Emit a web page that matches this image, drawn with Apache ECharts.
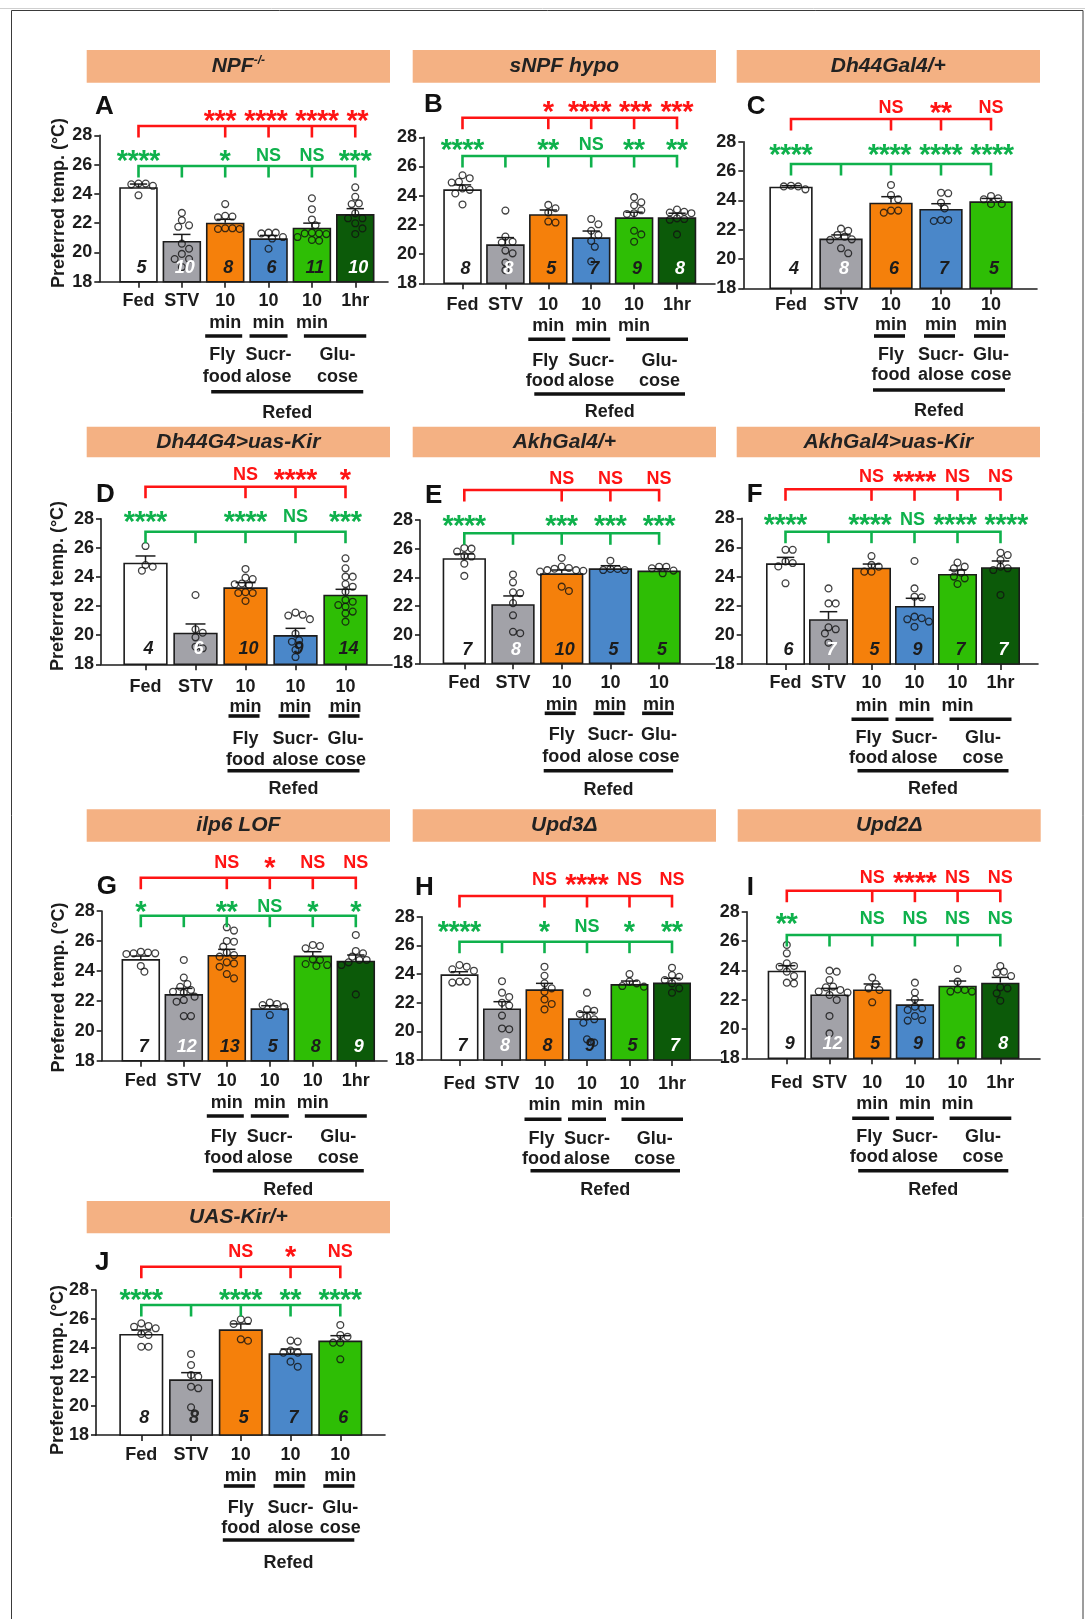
<!DOCTYPE html>
<html>
<head>
<meta charset="utf-8">
<script src="https://cdn.jsdelivr.net/npm/echarts@6/dist/echarts.min.js"></script>
<style>
html, body { margin: 0; padding: 0; background: #fff; }
#chart { width: 1085px; height: 1619px; }
</style>
</head>
<body>
<div id="chart"></div>
<script>
// ---------- shared labels ----------
const CATS_6 = ['Fed', 'STV', '10\nmin', '10\nmin', '10\nmin', '1hr'];
const CATS_5 = ['Fed', 'STV', '10\nmin', '10\nmin', '10\nmin'];
const GROUP_LABELS = [['Fly', 'food'], ['Sucr-', 'alose'], ['Glu-', 'cose']];
const REFED_LABEL = 'Refed';
const Y_TITLE = 'Preferred temp. (°C)';
const Y_MIN = 18, Y_MAX = 28, Y_STEP = 2;
const LETTERS = ['A', 'B', 'C', 'D', 'E', 'F', 'G', 'H', 'I', 'J'];
const TITLES = ['NPF^-/-', 'sNPF hypo', 'Dh44Gal4/+', 'Dh44G4>uas-Kir', 'AkhGal4/+',
                'AkhGal4>uas-Kir', 'ilp6 LOF', 'Upd3Δ', 'Upd2Δ', 'UAS-Kir/+'];

// ---------- A: NPF-/- ----------
const meanA = [24.45, 20.78, 22.03, 20.96, 21.69, 22.62];
const semA = [0.22, 0.45, 0.23, 0.2, 0.31, 0.37];
const nA = [5, 10, 8, 6, 11, 10];
const ptsA = [
  [24.65, 24.55, 24.7, 24.7, 23.9],
  [22.7, 22.2, 21.85, 21.75, 20.6, 20.25, 19.9, 19.55, 19.55, 19.0],
  [23.3, 22.5, 22.45, 22.4, 21.65, 21.6, 21.65, 21.6],
  [21.35, 21.3, 21.35, 21.05, 20.95, 20.25],
  [23.7, 22.95, 22.25, 21.85, 21.3, 21.3, 21.25, 21.05, 21.35, 20.85, 20.8],
  [24.45, 23.8, 23.35, 23.3, 22.67, 22.33, 22.33, 21.99, 21.64, 21.26]
];
const redA = ['***', '****', '****', '**'];
const greenA = ['****', '*', 'NS', 'NS', '***'];

// ---------- B: sNPF hypo ----------
const meanB = [24.44, 20.67, 22.73, 21.15, 22.52, 22.52];
const semB = [0.3, 0.46, 0.29, 0.43, 0.35, 0.28];
const nB = [8, 8, 5, 7, 9, 8];
const ptsB = [
  [25.4, 25.2, 24.9, 24.95, 24.5, 24.4, 24.15, 23.4],
  [22.98, 21.2, 20.85, 20.79, 20.24, 20.05, 19.42, 18.9],
  [23.37, 23.14, 22.85, 22.16, 22.23],
  [22.4, 22.04, 21.6, 21.3, 20.9, 20.5, 19.5],
  [23.9, 23.55, 23.35, 23.0, 22.8, 22.75, 21.6, 21.35, 20.85],
  [23.05, 22.9, 22.85, 22.8, 22.45, 22.4, 22.35, 21.35]
];
const redB = ['*', '****', '***', '***'];
const greenB = ['****', '**', 'NS', '**', '**'];

// ---------- C: Dh44Gal4/+ ----------
const meanC = [24.93, 21.39, 23.84, 23.41, 23.93];
const semC = [0.07, 0.25, 0.41, 0.36, 0.2];
const nC = [4, 8, 6, 7, 5];
const ptsC = [
  [25.0, 24.95, 24.95, 24.75],
  [22.07, 21.93, 21.64, 21.52, 21.34, 21.3, 20.73, 20.39],
  [25.05, 24.36, 24.07, 23.3, 23.3, 23.16],
  [24.52, 24.48, 23.84, 23.45, 22.66, 22.66, 22.59],
  [24.3, 24.14, 24.07, 23.75, 23.75]
];
const redC = ['NS', '**', 'NS'];
const greenC = ['****', '****', '****', '****'];

// ---------- D: Dh44G4>uas-Kir ----------
const meanD = [24.98, 20.17, 23.29, 20.01, 22.78];
const semD = [0.46, 0.6, 0.32, 0.46, 0.37];
const nD = [4, 6, 10, 9, 14];
const ptsD = [
  [26.12, 24.82, 24.7, 24.43],
  [22.76, 20.4, 20.17, 19.85, 19.21, 19.1],
  [24.55, 23.95, 23.85, 23.55, 23.5, 23.45, 22.9, 22.95, 22.9, 22.35],
  [21.4, 21.35, 21.55, 21.1, 20.1, 19.65, 19.55, 19.0, 18.5],
  [25.28, 24.59, 24.02, 24.02, 23.51, 23.33, 22.99, 22.42, 22.3, 22.07, 21.96, 21.62, 21.5, 20.93]
];
const redD = ['NS', '****', '*'];
const greenD = ['****', '****', 'NS', '***'];

// ---------- E: AkhGal4/+ ----------
const meanE = [25.33, 22.12, 24.28, 24.63, 24.47];
const semE = [0.3, 0.58, 0.23, 0.18, 0.13];
const nE = [7, 8, 10, 5, 5];
const ptsE = [
  [26.0, 26.05, 25.8, 25.5, 25.45, 24.95, 24.1],
  [24.2, 23.65, 22.95, 22.9, 22.2, 21.35, 20.2, 20.1],
  [25.35, 24.75, 24.65, 24.6, 24.5, 24.5, 24.45, 24.4, 23.35, 23.05],
  [25.16, 24.58, 24.51, 24.58, 24.51],
  [24.74, 24.74, 24.63, 24.28, 24.47]
];
const redE = ['NS', 'NS', 'NS'];
const greenE = ['****', '***', '***', '***'];

// ---------- F: AkhGal4>uas-Kir ----------
const meanF = [24.91, 21.07, 24.61, 21.98, 24.18, 24.64];
const semF = [0.41, 0.52, 0.25, 0.53, 0.27, 0.43];
const nF = [6, 7, 5, 9, 7, 7];
const ptsF = [
  [25.84, 25.84, 25.04, 24.93, 24.7, 23.54],
  [23.19, 22.16, 22.16, 20.52, 20.38, 20.1, 19.46],
  [25.41, 24.8, 24.68, 24.34, 24.34],
  [25.07, 23.19, 22.62, 22.58, 21.25, 21.14, 21.07, 20.91, 20.56],
  [24.96, 24.68, 24.57, 24.27, 24.0, 23.88, 23.49],
  [25.64, 25.48, 25.14, 24.68, 24.57, 24.45, 22.74]
];
const redF = ['NS', '****', 'NS', 'NS'];
const greenF = ['****', '****', 'NS', '****', '****'];

// ---------- G: ilp6 LOF ----------
const meanG = [24.79, 22.45, 25.06, 21.5, 25.02, 24.68];
const semG = [0.2, 0.38, 0.38, 0.17, 0.26, 0.38];
const nG = [7, 12, 13, 5, 8, 9];
const ptsG = [
  [25.22, 25.28, 25.17, 25.13, 25.17, 24.33, 23.95],
  [24.73, 23.55, 23.12, 22.94, 22.72, 22.61, 22.54, 22.28, 22.05, 21.94, 20.98, 20.98],
  [26.91, 26.69, 26.0, 25.95, 25.62, 25.22, 25.06, 24.95, 24.57, 24.5, 24.28, 23.79, 23.5],
  [21.88, 21.79, 21.61, 21.72, 21.05],
  [25.73, 25.66, 25.51, 24.77, 24.73, 24.46, 24.33, 24.39],
  [26.4, 25.33, 25.17, 24.95, 24.73, 24.57, 24.39, 24.73, 22.43]
];
const redG = ['NS', '*', 'NS', 'NS'];
const greenG = ['*', '**', 'NS', '*', '*'];

// ---------- H: Upd3Δ ----------
const meanH = [23.98, 21.6, 22.93, 20.91, 23.3, 23.4];
const semH = [0.18, 0.47, 0.42, 0.42, 0.21, 0.3];
const nH = [7, 8, 8, 9, 5, 7];
const ptsH = [
  [24.63, 24.51, 24.33, 24.23, 23.47, 23.47, 23.4],
  [23.5, 22.7, 22.4, 22.0, 21.8, 21.1, 20.2, 20.15],
  [24.51, 23.88, 23.35, 23.0, 22.77, 22.23, 21.91, 21.53],
  [22.7, 21.53, 21.44, 21.21, 21.02, 20.84, 20.6, 19.44, 19.21],
  [24.0, 23.47, 23.35, 23.16, 23.12],
  [24.44, 23.93, 23.81, 23.58, 23.35, 23.0, 22.7]
];
const redH = ['NS', '****', 'NS', 'NS'];
const greenH = ['****', '*', 'NS', '*', '**'];

// ---------- I: Upd2Δ ----------
const meanI = [23.98, 22.36, 22.7, 21.68, 22.95, 23.16];
const semI = [0.34, 0.41, 0.37, 0.3, 0.32, 0.36];
const nI = [9, 12, 5, 9, 6, 8];
const ptsI = [
  [25.73, 25.16, 24.48, 24.3, 24.25, 23.91, 23.61, 23.16, 23.11],
  [23.98, 23.91, 23.34, 22.89, 22.84, 22.66, 22.55, 22.48, 22.32, 21.98, 20.89, 19.7],
  [23.5, 23.07, 22.77, 22.66, 21.82],
  [23.16, 22.48, 22.02, 21.52, 21.41, 21.3, 20.89, 20.57, 20.61],
  [24.09, 23.23, 22.66, 22.55, 22.55, 22.7],
  [24.3, 23.91, 23.84, 23.61, 22.84, 22.77, 22.43, 21.93]
];
const redI = ['NS', '****', 'NS', 'NS'];
const greenI = ['**', 'NS', 'NS', 'NS', 'NS'];

// ---------- J: UAS-Kir/+ ----------
const meanJ = [24.97, 21.84, 25.29, 23.63, 24.51];
const semJ = [0.27, 0.46, 0.37, 0.3, 0.34];
const nJ = [8, 8, 5, 7, 6];
const ptsJ = [
  [25.7, 25.52, 25.47, 25.36, 24.97, 24.9, 24.09, 24.09],
  [23.59, 22.83, 22.14, 22.02, 21.33, 21.22, 19.91, 19.49],
  [25.98, 25.89, 25.66, 24.6, 24.5],
  [24.51, 24.44, 23.82, 23.68, 23.68, 23.06, 22.71],
  [25.59, 24.9, 24.78, 24.37, 24.37, 23.22]
];
const redJ = ['NS', '*', 'NS'];
const greenJ = ['****', '****', '**', '****'];

// ---------- styling ----------
const FONT = 'Liberation Sans';
const INK = '#1c1c1c';
const RED = '#ff1414';
const GREEN = '#0fb14c';
const HEADER_FILL = '#f4b183';
const BAR_COLORS = ['#ffffff', '#a2a2a8', '#f5800b', '#4a87c9', '#2ebe05', '#0c5a09'];
const N_LABEL_COLORS = [INK, '#ffffff', INK, INK, INK, '#ffffff'];
const STAR_PITCH = 10.8;
const STAR_FONT = 'bold 29px "Liberation Sans"';
const NS_WIDTH = 26;

// panel geometry (page pixels): y-axis x, x-axis right end, y of 28 and 18,
// first category centre, category pitch, bar width, label rows below the axis,
// bracket offsets from the top of the axis, header box, letter and y-title spots
const LAYOUT = [
  { ax: 99.3, right: 388, y28: 135.3, y18: 281.7, c0: 138.5, sp: 43.35, bw: 38.5,
    rows: [19, 41.6, 54.3, 73.3, 95.6, 110, 131], red: [-9.3, -19.3], green: [30.7, 20.4],
    hdr: [86.7, 390, 50, 82.7], letter: [95, 107], ytitle: [59, 203], nDy: -13.5 },
  { ax: 424, right: 715, y28: 137.3, y18: 283.3, c0: 462.5, sp: 42.9, bw: 38.5,
    rows: [21.7, 42.7, 56, 77.7, 97.4, 110.7, 128.4], red: [-19.6, -30.3], green: [18.7, 7.7],
    hdr: [412.7, 716, 50, 82.7], letter: [424, 105], ytitle: null, nDy: -14 },
  { ax: 743.3, right: 1037, y28: 141.7, y18: 288.3, c0: 791, sp: 50, bw: 43.3,
    rows: [16.7, 36.7, 47.7, 66.7, 86.7, 101.7, 122.4], red: [-22.7, -34], green: [22.3, 8.3],
    hdr: [736.7, 1040, 50, 82.7], letter: [746.7, 106.7], ytitle: null, nDy: -19 },
  { ax: 101, right: 392, y28: 518.7, y18: 664.3, c0: 145.5, sp: 50, bw: 44.3,
    rows: [22.4, 43, 51.7, 75, 95.7, 106.4, 125], red: [-32, -43.7], green: [13, -2],
    hdr: [86.7, 390, 426.7, 457.3], letter: [96, 495], ytitle: [58.3, 586], nDy: -15 },
  { ax: 420, right: 715, y28: 520, y18: 663.3, c0: 464.3, sp: 48.7, bw: 43.3,
    rows: [19.4, 41.7, 50, 71.7, 93.4, 107.4, 126.7], red: [-30, -40.7], green: [13.3, 1],
    hdr: [412.7, 716, 426.7, 457.3], letter: [425, 496], ytitle: null, nDy: -13.5 },
  { ax: 741.7, right: 1038, y28: 518.3, y18: 664, c0: 785.5, sp: 43, bw: 39,
    rows: [19.3, 42, 55.3, 74.3, 94.3, 106.7, 125.3], red: [-29, -41.6], green: [13.4, 1.7],
    hdr: [736.7, 1040, 426.7, 457.3], letter: [746.7, 495], ytitle: null, nDy: -14 },
  { ax: 101.7, right: 387, y28: 911, y18: 1060.7, c0: 140.8, sp: 43, bw: 38.5,
    rows: [20, 42, 55.3, 76.6, 97.6, 110, 129.3], red: [-33.3, -47.7], green: [4.7, -4.3],
    hdr: [86.7, 390, 809.3, 841.7], letter: [96.7, 886.7], ytitle: [59.3, 987.5], nDy: -13.5 },
  { ax: 421.7, right: 722, y28: 916.7, y18: 1060, c0: 459.5, sp: 42.5, bw: 38,
    rows: [24, 45, 59.3, 79.3, 99.3, 110.7, 130], red: [-20.7, -36.7], green: [25, 10],
    hdr: [412.7, 716, 809.3, 841.7], letter: [415, 888.3], ytitle: null, nDy: -14 },
  { ax: 746.7, right: 1040, y28: 911.7, y18: 1058.3, c0: 786.8, sp: 42.7, bw: 38.3,
    rows: [24.4, 45.7, 60, 79, 98.4, 112.4, 131.7], red: [-21, -33.4], green: [23.3, 7.3],
    hdr: [737.7, 1040.7, 809.3, 841.7], letter: [746.7, 888], ytitle: null, nDy: -14 },
  { ax: 96, right: 385, y28: 1290, y18: 1435, c0: 141.3, sp: 49.75, bw: 44,
    rows: [20, 41, 51, 73.3, 93.3, 105, 127.7], red: [-23.3, -38.3], green: [15, 4.5],
    hdr: [86.7, 390, 1201, 1233.3], letter: [95, 1262.7], ytitle: [58.3, 1370], nDy: -16.7,
    stvDark: true }
];

const PANELS = [
  { cats: CATS_6, mean: meanA, sem: semA, n: nA, pts: ptsA, red: redA, green: greenA },
  { cats: CATS_6, mean: meanB, sem: semB, n: nB, pts: ptsB, red: redB, green: greenB },
  { cats: CATS_5, mean: meanC, sem: semC, n: nC, pts: ptsC, red: redC, green: greenC },
  { cats: CATS_5, mean: meanD, sem: semD, n: nD, pts: ptsD, red: redD, green: greenD },
  { cats: CATS_5, mean: meanE, sem: semE, n: nE, pts: ptsE, red: redE, green: greenE },
  { cats: CATS_6, mean: meanF, sem: semF, n: nF, pts: ptsF, red: redF, green: greenF },
  { cats: CATS_6, mean: meanG, sem: semG, n: nG, pts: ptsG, red: redG, green: greenG },
  { cats: CATS_6, mean: meanH, sem: semH, n: nH, pts: ptsH, red: redH, green: greenH },
  { cats: CATS_6, mean: meanI, sem: semI, n: nI, pts: ptsI, red: redI, green: greenI },
  { cats: CATS_5, mean: meanJ, sem: semJ, n: nJ, pts: ptsJ, red: redJ, green: greenJ }
];

// simple beeswarm: spread points sideways (in px) so circles do not overlap
function swarm(vals, pxPerUnit) {
  const d = 6.6, step = 3.6;
  const order = vals.map((v, i) => i).sort((a, b) => vals[b] - vals[a]);
  const placed = [];
  const out = new Array(vals.length).fill(0);
  order.forEach(i => {
    const y = vals[i] * pxPerUnit;
    for (let k = 0; k < 40; k++) {
      const dx = (k % 2 ? 1 : -1) * Math.ceil(k / 2) * step;
      if (placed.every(p => (p.x - dx) * (p.x - dx) + (p.y - y) * (p.y - y) >= d * d)) {
        placed.push({ x: dx, y });
        out[i] = dx;
        break;
      }
    }
  });
  return out;
}

// significance marks: width estimate and sideways nudging so neighbours keep a gap
function markWidth(s) {
  return s.indexOf('*') >= 0 ? s.length * STAR_PITCH : NS_WIDTH;
}
function spreadMarks(items, gap) {
  for (let it = 0; it < 8; it++) {
    for (let a = 0; a < items.length - 1; a++) {
      const A = items[a], B = items[a + 1];
      const need = (A.w + B.w) / 2 + gap;
      const d = B.x - A.x;
      if (d < need) {
        const s = (need - d) / 2;
        A.x -= s;
        B.x += s;
      }
    }
  }
  return items;
}

const option = {
  animation: false,
  backgroundColor: '#ffffff',
  grid: [], xAxis: [], yAxis: [], series: [], graphic: []
};

// page frame
option.graphic.push(
  { type: 'line', silent: true, shape: { x1: 0, y1: 8.5, x2: 1085, y2: 8.5 }, style: { stroke: '#cfcfcf', lineWidth: 1 } },
  { type: 'rect', silent: true, shape: { x: 11.5, y: 10.5, width: 1071.5, height: 1640 }, style: { fill: 'none', stroke: '#3a3a3a', lineWidth: 1 } }
);

PANELS.forEach((P, k) => {
  const L = LAYOUT[k];
  const nCat = P.cats.length;
  const idx = P.cats.map((c, i) => i);
  const xMin = -(L.c0 - L.ax) / L.sp;
  const xMax = xMin + (L.right - L.ax) / L.sp;
  const pxPerUnit = (L.y18 - L.y28) / (Y_MAX - Y_MIN);
  const lh = L.rows[1] - L.rows[0];

  option.grid.push({ left: L.ax, top: L.y28, width: L.right - L.ax, height: L.y18 - L.y28 });

  option.xAxis.push({
    type: 'value', gridIndex: k, min: xMin, max: xMax,
    splitLine: { show: false },
    axisLine: { show: true, onZero: false, lineStyle: { color: INK, width: 1.6 } },
    axisTick: { show: true, customValues: idx, length: 6, lineStyle: { color: INK, width: 1.6 } },
    axisLabel: {
      show: true, customValues: idx,
      formatter: v => P.cats[Math.round(v)],
      color: INK, fontFamily: FONT, fontWeight: 'bold', fontSize: 18,
      lineHeight: lh, margin: L.rows[0] - lh / 2, verticalAlign: 'top'
    }
  });

  option.yAxis.push({
    type: 'value', gridIndex: k, min: Y_MIN, max: Y_MAX, interval: Y_STEP,
    splitLine: { show: false },
    axisLine: { show: true, onZero: false, lineStyle: { color: INK, width: 1.6 } },
    axisTick: { show: true, length: 5, lineStyle: { color: INK, width: 1.6 } },
    axisLabel: { color: INK, fontFamily: FONT, fontWeight: 'bold', fontSize: 18, margin: 7 }
  });

  // bars (group means)
  option.series.push({
    type: 'bar', xAxisIndex: k, yAxisIndex: k, barWidth: L.bw, silent: true, z: 2,
    itemStyle: { borderColor: INK, borderWidth: 1.6 },
    data: P.mean.map((m, i) => ({ value: [i, m], itemStyle: { color: BAR_COLORS[i] } }))
  });

  // SEM whiskers (upper only)
  option.series.push({
    type: 'custom', xAxisIndex: k, yAxisIndex: k, silent: true, z: 3,
    data: P.mean.map((m, i) => [i, m, P.sem[i]]),
    renderItem: (params, api) => {
      const i = api.value(0), m = api.value(1), s = api.value(2);
      const p0 = api.coord([i, m]);
      const p1 = api.coord([i, m + s]);
      const cap = L.bw * 0.45 / 2;
      return {
        type: 'group', children: [
          { type: 'line', shape: { x1: p0[0], y1: p0[1], x2: p1[0], y2: p1[1] }, style: { stroke: INK, lineWidth: 1.5 } },
          { type: 'line', shape: { x1: p1[0] - cap, y1: p1[1], x2: p1[0] + cap, y2: p1[1] }, style: { stroke: INK, lineWidth: 1.5 } }
        ]
      };
    }
  });

  // individual flies
  const dots = [];
  P.pts.forEach((vals, i) => {
    const off = swarm(vals, pxPerUnit);
    vals.forEach((v, j) => dots.push([i + off[j] / L.sp, v]));
  });
  option.series.push({
    type: 'scatter', xAxisIndex: k, yAxisIndex: k, silent: true, z: 4,
    symbol: 'circle', symbolSize: 6.8,
    itemStyle: { color: 'rgba(0,0,0,0)', borderColor: '#111', borderWidth: 1.3 },
    data: dots
  });

  // sample sizes inside bars
  option.series.push({
    type: 'custom', xAxisIndex: k, yAxisIndex: k, silent: true, z: 6,
    data: P.n.map((n, i) => [i, Y_MIN, n]),
    renderItem: (params, api) => {
      const i = api.value(0);
      const p = api.coord([i, Y_MIN]);
      let col = N_LABEL_COLORS[i];
      if (i === 1 && L.stvDark) col = '#2a2a2a';
      return {
        type: 'text', x: p[0] + 3, y: p[1] + L.nDy,
        style: { text: String(api.value(2)), fill: col, font: 'italic bold 18px "' + FONT + '"', align: 'center', verticalAlign: 'middle' }
      };
    }
  });

  // brackets, significance marks and group captions under the axis
  option.series.push({
    type: 'custom', xAxisIndex: k, yAxisIndex: k, silent: true, z: 6, clip: false,
    data: [[0, Y_MAX]],
    renderItem: (params, api) => {
      const cx = i => api.coord([i, Y_MAX])[0];
      const yTop = api.coord([0, Y_MAX])[1];
      const yBot = api.coord([0, Y_MIN])[1];
      const last = nCat - 1;
      const ch = [];
      const seg = (x1, y1, x2, y2, stroke, w) => ch.push({ type: 'line', shape: { x1, y1, x2, y2 }, style: { stroke, lineWidth: w } });
      const txt = (x, y, s, font, fill) => ch.push({ type: 'text', x, y, style: { text: s, font, fill, align: 'center', verticalAlign: 'middle' } });
      const mark = (x, y, s, fill) => {
        if (s.indexOf('*') >= 0) {
          for (let j = 0; j < s.length; j++) {
            txt(x + (j - (s.length - 1) / 2) * STAR_PITCH, y + 6, '*', STAR_FONT, fill);
          }
        } else {
          txt(x, y, s, 'bold 18px "' + FONT + '"', fill);
        }
      };
      const tick = 11.5;

      // red bracket: Fed vs each refed group
      const ry = yTop + L.red[0];
      ch.push({ type: 'polyline', shape: { points: [[cx(0), ry + tick], [cx(0), ry], [cx(last), ry], [cx(last), ry + tick]] },
                style: { stroke: RED, lineWidth: 2.6, fill: 'none' } });
      for (let i = 2; i < last; i++) seg(cx(i), ry, cx(i), ry + tick, RED, 2.6);
      spreadMarks(P.red.map((s, j) => ({ s, x: cx(j + 2), w: markWidth(s) })), 8)
        .forEach(m => mark(m.x, yTop + L.red[1], m.s, RED));

      // green bracket: STV vs Fed and vs each refed group
      const gy = yTop + L.green[0];
      ch.push({ type: 'polyline', shape: { points: [[cx(0), gy + tick], [cx(0), gy], [cx(last), gy], [cx(last), gy + tick]] },
                style: { stroke: GREEN, lineWidth: 2.6, fill: 'none' } });
      for (let i = 1; i < last; i++) seg(cx(i), gy, cx(i), gy + tick, GREEN, 2.6);
      spreadMarks(P.green.map((s, j) => ({ s, x: cx(j === 0 ? 0 : j + 1), w: markWidth(s) })), 8)
        .forEach(m => mark(m.x, yTop + L.green[1], m.s, GREEN));

      // group underlines and captions
      const r = L.rows;
      const labFont = 'bold 18px "' + FONT + '"';
      let spans, centers, longSpan;
      if (nCat === 6) {
        spans = [[cx(2) - 20, cx(2) + 17], [cx(3) - 19, cx(3) + 19], [cx(4) - 8, cx(5) + 11]];
        centers = [cx(2) - 3, cx(3), (cx(4) + cx(5)) / 2 + 4];
        longSpan = [cx(2) - 14, cx(5) + 8];
      } else {
        spans = [2, 3, 4].map(i => [cx(i) - 17, cx(i) + 14]);
        centers = [cx(2), cx(3), cx(4)];
        longSpan = [cx(2) - 18, cx(4) + 14];
      }
      spans.forEach(sp => seg(sp[0], yBot + r[2], sp[1], yBot + r[2], '#111', 3.6));
      GROUP_LABELS.forEach((g, j) => {
        txt(centers[j], yBot + r[3], g[0], labFont, INK);
        txt(centers[j], yBot + r[4], g[1], labFont, INK);
      });
      seg(longSpan[0], yBot + r[5], longSpan[1], yBot + r[5], '#111', 3.6);
      txt((longSpan[0] + longSpan[1]) / 2, yBot + r[6], REFED_LABEL, labFont, INK);

      return { type: 'group', children: ch };
    }
  });

  // header strip with genotype
  const h = L.hdr;
  option.graphic.push({ type: 'rect', silent: true, shape: { x: h[0], y: h[2], width: h[1] - h[0], height: h[3] - h[2] }, style: { fill: HEADER_FILL } });
  const parts = TITLES[k].split('^');
  const rich = {
    b: { fontFamily: FONT, fontStyle: 'italic', fontWeight: 'bold', fontSize: 21, fill: '#222', lineHeight: 24 },
    s: { fontFamily: FONT, fontStyle: 'italic', fontWeight: 'bold', fontSize: 12, fill: '#222', verticalAlign: 'top', lineHeight: 24 }
  };
  const titleText = parts.length > 1 ? '{b|' + parts[0] + '}{s|' + parts[1] + '}' : '{b|' + parts[0] + '}';
  option.graphic.push({ type: 'text', silent: true, x: (h[0] + h[1]) / 2, y: (h[2] + h[3]) / 2,
    style: { text: titleText, rich, align: 'center', verticalAlign: 'middle' } });

  // panel letter
  option.graphic.push({ type: 'text', silent: true, x: L.letter[0], y: L.letter[1],
    style: { text: LETTERS[k], font: 'bold 26px "' + FONT + '"', fill: '#111', align: 'left', verticalAlign: 'middle' } });

  // y-axis title on the left column
  if (L.ytitle) {
    option.graphic.push({ type: 'text', silent: true, x: L.ytitle[0], y: L.ytitle[1], rotation: Math.PI / 2,
      style: { text: Y_TITLE, font: 'bold 18px "' + FONT + '"', fill: INK, align: 'center', verticalAlign: 'middle' } });
  }
});

const chart = echarts.init(document.getElementById('chart'), null, { renderer: 'canvas' });
chart.setOption(option);
</script>
</body>
</html>
